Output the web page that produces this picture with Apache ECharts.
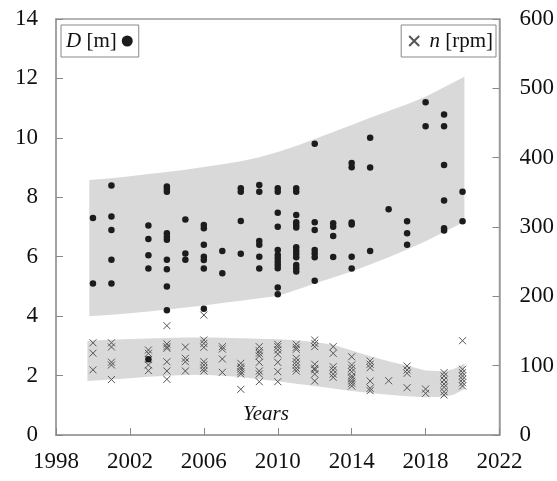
<!DOCTYPE html>
<html>
<head>
<meta charset="utf-8">
<script src="https://cdn.jsdelivr.net/npm/echarts@6/dist/echarts.min.js"></script>
<style>
  html, body { margin: 0; padding: 0; background: #fff; }
  #chart { width: 557px; height: 481px; }
</style>
</head>
<body>
<div id="chart"></div>
<script>
// Rotor diameter D [m] per commissioning year
const diameterYears = [2000, 2001, 2003, 2004, 2005, 2006, 2007, 2008, 2009, 2010, 2011, 2012, 2013, 2014, 2015, 2016, 2017, 2018, 2019, 2020];
const diameterValues = [
  [7.3, 5.1],
  [8.4, 7.35, 6.9, 5.9, 5.1],
  [7.05, 6.6, 6.05, 5.6, 2.55],
  [8.36, 8.28, 8.19, 6.79, 6.67, 6.57, 5.9, 5.58, 5.0, 4.2],
  [7.25, 6.11, 5.9],
  [7.07, 6.96, 6.4, 6.0, 5.89, 5.6, 4.25],
  [6.19, 5.44],
  [8.3, 8.19, 7.2, 6.1],
  [8.41, 8.19, 6.53, 6.4, 6.0, 5.6],
  [8.3, 8.19, 7.48, 7.01, 6.23, 6.06, 5.95, 5.83, 5.72, 5.61, 4.96, 4.74],
  [8.3, 8.19, 7.4, 7.16, 7.07, 6.98, 6.32, 6.2, 6.09, 5.98, 5.72, 5.61, 5.5],
  [9.8, 7.16, 6.9, 6.23, 6.11, 5.98, 5.19],
  [7.13, 7.01, 6.7, 5.99],
  [9.15, 9.01, 7.15, 7.08, 6.0, 5.6],
  [10.0, 9.0, 6.19],
  [7.6],
  [7.19, 6.79, 6.4],
  [11.2, 10.39],
  [10.79, 10.39, 9.09, 7.89, 6.96, 6.88],
  [8.19, 7.19]
];

// Rotational speed n [rpm] per commissioning year
const speedYears = [2000, 2001, 2003, 2004, 2005, 2006, 2007, 2008, 2009, 2010, 2011, 2012, 2013, 2014, 2015, 2016, 2017, 2018, 2019, 2020];
const speedValues = [
  [133, 118, 94],
  [133, 127, 105, 101, 80],
  [122.6, 117.8, 109, 101, 92.8],
  [157.7, 131.3, 127.4, 125, 105.7, 92.3, 80.3],
  [126.9, 110.6, 105.7, 92.3],
  [173, 137, 132, 126.5, 105.7, 101, 96.2, 92.3],
  [127.4, 124, 109.6, 90.4],
  [103.4, 98.5, 95.2, 91.3, 88, 65.9],
  [127.4, 121.6, 117.8, 113.9, 104.8, 92.3, 88, 76.9],
  [130.8, 127.4, 122.6, 116.8, 104.8, 91.3, 76.9],
  [130.8, 126.5, 123.6, 110.6, 105.7, 101, 96.2, 92.3],
  [137, 132.2, 127.4, 102, 96.2, 93.8, 88, 77.9],
  [127.4, 117.8, 98.5, 93.8, 88, 83.2],
  [112.9, 101, 96.2, 91.3, 85.1, 81.8, 77.9, 74.6, 70.7],
  [106.7, 102, 97.1, 77.9, 67.4, 63.9],
  [78.3],
  [99.5, 93.8, 89, 68.2],
  [66.3, 60.1],
  [89.9, 85.1, 79.3, 73.6, 68.8, 62.5, 57.7],
  [136, 94.8, 89.9, 85.1, 80.3, 75.4, 70.7]
];

// Trend envelope for D [m]
const diameterBandYears = [1999.8, 2001, 2002, 2003, 2004, 2005, 2006, 2007, 2008, 2009, 2010, 2011, 2012, 2013, 2014, 2015, 2016, 2017, 2018, 2019, 2020.1];
const diameterBandLow   = [4.00, 4.05, 4.10, 4.16, 4.22, 4.29, 4.36, 4.44, 4.52, 4.60, 4.68, 4.88, 5.10, 5.30, 5.50, 5.74, 5.98, 6.24, 6.52, 6.83, 7.18];
const diameterBandHigh  = [8.58, 8.64, 8.71, 8.78, 8.85, 8.93, 9.02, 9.11, 9.21, 9.35, 9.52, 9.73, 9.96, 10.20, 10.43, 10.68, 10.90, 11.13, 11.38, 11.70, 12.06];

// Trend envelope for n [rpm]
const speedBandYears = [1999.7, 2001, 2002, 2003, 2004, 2005, 2006, 2007, 2008, 2009, 2010, 2011, 2012, 2013, 2014, 2015, 2016, 2017, 2018, 2019, 2019.5, 2020.1];
const speedBandLow   = [78, 80, 82, 84, 85.5, 86.5, 87, 85.5, 83.5, 80.5, 77.5, 74, 70.5, 67, 63.5, 60.5, 58, 56, 54.5, 55, 58, 66];
const speedBandHigh  = [136, 137.5, 138.5, 139.3, 140, 140.5, 140.5, 140.2, 139.7, 139, 138, 136.5, 134, 130, 122, 113.5, 106.5, 100, 93, 92, 95, 103];

// Axis tick labels
const yearTicks = [1998, 2002, 2006, 2010, 2014, 2018, 2022];
const diameterTicks = [0, 2, 4, 6, 8, 10, 12, 14];
const speedTicks = [0, 100, 200, 300, 400, 500, 600];

const SERIF = 'Liberation Serif';
const FRAME = '#9c9c9c';
const CROSS = 'path://M0,0L10,10M10,0L0,10';

function flatten(years, values) {
  const out = [];
  years.forEach((y, i) => values[i].forEach(v => out.push([y, v])));
  return out;
}

function band(years, low, high, yAxisIndex) {
  return {
    type: 'custom',
    yAxisIndex: yAxisIndex,
    silent: true,
    z: 1,
    data: [[years[0], low[0]]],
    renderItem: function (params, api) {
      const pts = [];
      for (let i = 0; i < years.length; i++) pts.push(api.coord([years[i], high[i]]));
      for (let i = years.length - 1; i >= 0; i--) pts.push(api.coord([years[i], low[i]]));
      return { type: 'polygon', shape: { points: pts }, style: { fill: '#d9d9d9' } };
    }
  };
}

function valueAxis(ticks, position, margin) {
  return {
    type: 'value',
    position: position,
    min: ticks[0],
    max: ticks[ticks.length - 1],
    interval: ticks[1] - ticks[0],
    axisLine: { show: true, lineStyle: { color: FRAME, width: 1.5 } },
    axisTick: { show: true, inside: true, length: 7, lineStyle: { color: '#888', width: 1 } },
    splitLine: { show: false },
    axisLabel: { fontSize: 23, color: '#111', fontFamily: SERIF, margin: margin }
  };
}

const legendText = {
  fontSize: 21,
  color: '#111',
  fontFamily: SERIF,
  lineHeight: 24,
  rich: { it: { fontStyle: 'italic', fontSize: 21, fontFamily: SERIF, color: '#111' } }
};

const chart = echarts.init(document.getElementById('chart'), null, { renderer: 'canvas' });

chart.setOption({
  animation: false,
  backgroundColor: '#fff',
  textStyle: { fontFamily: SERIF },
  grid: { left: 56, right: 56, top: 19, bottom: 46, show: true, borderColor: FRAME, borderWidth: 1.5 },
  legend: [
    {
      data: ['D'],
      left: 61, top: 25,
      align: 'right',
      selectedMode: false,
      itemWidth: 11, itemHeight: 11,
      padding: [4, 6, 4, 5],
      borderColor: '#888', borderWidth: 1,
      textStyle: legendText,
      formatter: () => '{it|D} [m]'
    },
    {
      data: ['n'],
      right: 61, top: 25,
      align: 'left',
      selectedMode: false,
      itemWidth: 10, itemHeight: 10,
      padding: [4, 3, 4, 7],
      borderColor: '#888', borderWidth: 1,
      textStyle: legendText,
      formatter: () => ' {it|n} [rpm]'
    }
  ],
  xAxis: {
    type: 'value',
    min: yearTicks[0],
    max: yearTicks[yearTicks.length - 1],
    interval: yearTicks[1] - yearTicks[0],
    axisLine: { show: true, lineStyle: { color: FRAME, width: 1.5 } },
    axisTick: { show: true, inside: true, length: 7, lineStyle: { color: '#888', width: 1 } },
    splitLine: { show: false },
    axisLabel: { fontSize: 23, color: '#111', fontFamily: SERIF, margin: 15, formatter: v => String(v) }
  },
  yAxis: [
    valueAxis(diameterTicks, 'left', 18),
    valueAxis(speedTicks, 'right', 20)
  ],
  graphic: [
    {
      type: 'text',
      left: 243, top: 404,
      style: { text: 'Years', fontFamily: SERIF, fontStyle: 'italic', fontSize: 21, fill: '#111' }
    }
  ],
  series: [
    band(diameterBandYears, diameterBandLow, diameterBandHigh, 0),
    band(speedBandYears, speedBandLow, speedBandHigh, 1),
    {
      name: 'n',
      type: 'scatter',
      yAxisIndex: 1,
      z: 3,
      symbol: CROSS,
      symbolSize: 7,
      itemStyle: { color: 'rgba(0,0,0,0)', borderColor: '#555', borderWidth: 1, opacity: 1 },
      data: flatten(speedYears, speedValues)
    },
    {
      name: 'D',
      type: 'scatter',
      yAxisIndex: 0,
      z: 4,
      symbol: 'circle',
      symbolSize: 6.5,
      itemStyle: { color: '#1c1c1c', opacity: 1 },
      data: flatten(diameterYears, diameterValues)
    }
  ]
});
</script>
</body>
</html>
